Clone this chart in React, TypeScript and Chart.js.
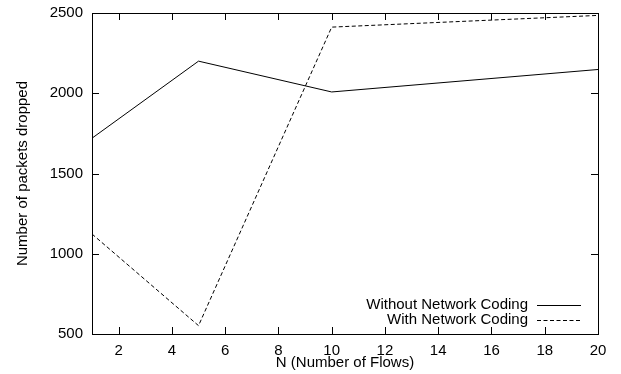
import React, { useEffect, useRef } from "react";
import { Chart, registerables } from "chart.js";

Chart.register(...registerables);

const flows = [1, 5, 10, 20];
const withoutNC = [1720, 2200, 2008, 2148];
const withNC = [1123, 552, 2412, 2485];
const xTickValues = [2, 4, 6, 8, 10, 12, 14, 16, 18, 20];
const yTickValues = [500, 1000, 1500, 2000, 2500];
const seriesLabels = ["Without Network Coding", "With Network Coding"];
const xTitle = "N (Number of Flows)";
const yTitle = "Number of packets dropped";

const FONT = "'Liberation Sans', Arial, Helvetica, sans-serif";
const FS = 15;

const gnuplotPlugin = {
  id: "gnuplotDecor",
  afterDraw(chart: any) {
    const ctx = chart.ctx;
    const { left, right, top, bottom } = chart.chartArea;
    const xs = chart.scales.x;
    const ys = chart.scales.y;
    ctx.save();
    ctx.strokeStyle = "#000";
    ctx.lineWidth = 1;
    ctx.setLineDash([]);
    ctx.strokeRect(Math.round(left) + 0.5, Math.round(top) + 0.5, Math.round(right - left), Math.round(bottom - top));
    const TL = 7;
    ctx.beginPath();
    yTickValues.forEach((v) => {
      const y = Math.round(ys.getPixelForValue(v)) + 0.5;
      ctx.moveTo(left, y);
      ctx.lineTo(left + TL, y);
      ctx.moveTo(right, y);
      ctx.lineTo(right - TL, y);
    });
    xTickValues.forEach((v) => {
      const x = Math.round(xs.getPixelForValue(v)) + 0.5;
      ctx.moveTo(x, bottom);
      ctx.lineTo(x, bottom - TL);
      ctx.moveTo(x, top);
      ctx.lineTo(x, top + TL);
    });
    ctx.stroke();

    ctx.fillStyle = "#000";
    ctx.font = `${FS}px ${FONT}`;
    ctx.textAlign = "center";
    ctx.textBaseline = "middle";
    ctx.fillText(xTitle, (left + right) / 2, 363);
    ctx.save();
    ctx.translate(23, (top + bottom) / 2);
    ctx.rotate(-Math.PI / 2);
    ctx.fillText(yTitle, 0, 0);
    ctx.restore();

    const rows = [305, 320];
    chart.data.datasets.forEach((ds: any, i: number) => {
      const y = rows[i];
      ctx.textAlign = "right";
      ctx.textBaseline = "middle";
      ctx.fillText(ds.label, 528, y);
      ctx.beginPath();
      ctx.setLineDash(ds.borderDash || []);
      ctx.strokeStyle = ds.borderColor;
      ctx.moveTo(537, Math.round(y) + 0.5);
      ctx.lineTo(581, Math.round(y) + 0.5);
      ctx.stroke();
    });
    ctx.restore();
  },
};

export default function App() {
  const ref = useRef<HTMLCanvasElement | null>(null);
  useEffect(() => {
    if (!ref.current) return;
    const chart = new Chart(ref.current, {
      type: "line",
      data: {
        datasets: [
          {
            label: seriesLabels[0],
            data: flows.map((x, i) => ({ x, y: withoutNC[i] })),
            borderColor: "#000",
            borderWidth: 1,
            pointRadius: 0,
            fill: false,
            tension: 0,
          },
          {
            label: seriesLabels[1],
            data: flows.map((x, i) => ({ x, y: withNC[i] })),
            borderColor: "#000",
            borderWidth: 1,
            borderDash: [4, 2.5],
            pointRadius: 0,
            fill: false,
            tension: 0,
          },
        ],
      },
      options: {
        animation: false,
        responsive: false,
        layout: { padding: { left: 0, right: 23, top: 13, bottom: 0 } },
        plugins: { legend: { display: false }, tooltip: { enabled: false } },
        scales: {
          x: {
            type: "linear",
            min: 1,
            max: 20,
            grid: { display: false, drawTicks: false },
            border: { display: false },
            afterBuildTicks: (s: any) => {
              s.ticks = xTickValues.map((v) => ({ value: v }));
            },
            afterFit: (s: any) => {
              s.height = 40;
              s.paddingLeft = 0;
              s.paddingRight = 0;
            },
            ticks: {
              color: "#000",
              font: { family: FONT, size: FS },
              padding: 8,
              maxRotation: 0,
              autoSkip: false,
              callback: (v: any) => String(v),
            },
          },
          y: {
            type: "linear",
            min: 500,
            max: 2500,
            grid: { display: false, drawTicks: false },
            border: { display: false },
            afterBuildTicks: (s: any) => {
              s.ticks = yTickValues.map((v) => ({ value: v }));
            },
            afterFit: (s: any) => {
              s.width = 92;
              s.paddingTop = 0;
              s.paddingBottom = 0;
            },
            ticks: {
              color: "#000",
              font: { family: FONT, size: FS },
              padding: 9,
              autoSkip: false,
              callback: (v: any) => String(v),
            },
          },
        },
      },
      plugins: [gnuplotPlugin],
    } as any);
    return () => chart.destroy();
  }, []);
  return (
    <div style={{ position: "fixed", left: 0, top: 0, width: 621, height: 374, background: "#fff" }}>
      <canvas ref={ref} width={621} height={374} style={{ display: "block" }} />
    </div>
  );
}
